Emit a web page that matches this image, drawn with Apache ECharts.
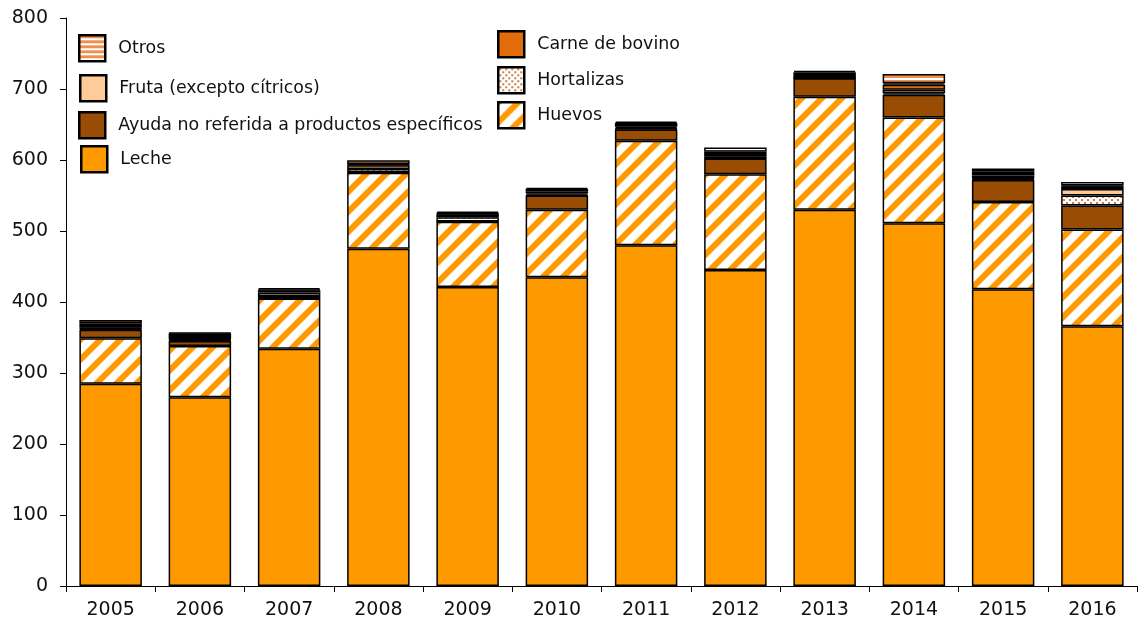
<!DOCTYPE html>
<html>
<head>
<meta charset="utf-8">
<script src="https://cdn.jsdelivr.net/npm/echarts@6/dist/echarts.min.js"></script>
<style>
html,body{margin:0;padding:0;background:#fff;}
#c{width:1140px;height:626px;}
</style>
</head>
<body>
<div id="c"></div>
<script>
// ---- data ----
var years = ['2005','2006','2007','2008','2009','2010','2011','2012','2013','2014','2015','2016'];
var leche      = [285, 266, 334, 475, 421, 435, 480, 445, 530, 511, 418, 366];
var huevos     = [64, 72, 71, 107, 92, 95, 147, 135, 159, 149, 123, 136];
var ayuda      = [12, 7, 0.5, 0.5, 0.5, 20, 16, 22, 26, 32, 31, 34];
var hortalizas = [1.5, 1.5, 3, 5, 6, 1, 1, 1, 0.5, 2, 1, 14];
var fruta      = [0.5, 0.5, 5, 5, 4, 2, 1, 0.5, 0.5, 5, 1, 9];
var carne      = [1, 1, 3, 1, 1, 3, 2, 1, 0.5, 7, 4, 4];
var resto      = [6, 8, 1, 1, 1, 3, 5, 7, 7, 2, 6, 1];
var otros      = [4.5, 1, 2, 5, 2, 2, 2, 6, 2, 13, 4, 5];
var yTicks = [0, 100, 200, 300, 400, 500, 600, 700, 800];

// ---- patterns ----
function diag(){
  var n=20;
  var c=document.createElement('canvas');c.width=n;c.height=n;
  var g=c.getContext('2d');g.fillStyle='#fff';g.fillRect(0,0,n,n);
  g.strokeStyle='#FF9900';g.lineWidth=6;
  for(var k=-1;k<=1;k++){g.beginPath();g.moveTo(-5+k*n,n+5);g.lineTo(n+5+k*n,-5);g.stroke();}
  return c;
}
function dots(){
  var c=document.createElement('canvas');c.width=6;c.height=6;
  var g=c.getContext('2d');g.fillStyle='#fff';g.fillRect(0,0,6,6);
  g.fillStyle='#C8824A';g.fillRect(1,1,2,2);g.fillRect(4,4,2,2);
  return c;
}
function hstripes(){
  var c=document.createElement('canvas');c.width=4;c.height=5;
  var g=c.getContext('2d');g.fillStyle='#fff';g.fillRect(0,0,4,5);
  g.fillStyle='#F09050';g.fillRect(0,0,4,3);
  return c;
}
var pDiag={image:diag(),repeat:'repeat'};
var pDots={image:dots(),repeat:'repeat'};
var pStr={image:hstripes(),repeat:'repeat'};

function s(name,data,color){
  return {name:name,type:'bar',stack:'t',data:data,barCategoryGap:'30%',
    itemStyle:{color:color,borderColor:'#000',borderWidth:1.5},
    emphasis:{disabled:true}};
}
var series=[
  s('Leche',leche,'#FF9900'),
  s('Huevos',huevos,pDiag),
  s('Ayuda no referida a productos específicos',ayuda,'#994C04'),
  s('Hortalizas',hortalizas,pDots),
  s('Fruta (excepto cítricos)',fruta,'#FFCC99'),
  s('Carne de bovino',carne,'#E36C0A'),
  s('Resto',resto,'#000000'),
  s('Otros',otros,pStr)
];

function leg(name,left,top){
  return {data:[{name:name,icon:'rect'}],left:left,top:top,padding:0,itemWidth:26,itemHeight:26,
    selectedMode:false,
    itemStyle:{borderColor:'#000',borderWidth:2.5},
    textStyle:{fontFamily:'DejaVu Sans',fontSize:17.4,color:'#111',padding:[8,0,0,8]}};
}

var chart=echarts.init(document.getElementById('c'));
chart.setOption({
  animation:false,
  grid:{left:66,right:3,top:18,bottom:40},
  legend:[
    leg('Otros',78,34),
    leg('Fruta (excepto cítricos)',79,74),
    leg('Ayuda no referida a productos específicos',78,111),
    leg('Leche',80,145),
    leg('Carne de bovino',497,30),
    leg('Hortalizas',497,66),
    leg('Huevos',497,101)
  ],
  xAxis:{type:'category',data:years,
    axisLine:{lineStyle:{color:'#000',width:1}},
    axisTick:{show:true,alignWithLabel:false,length:6,lineStyle:{color:'#000'}},
    axisLabel:{fontFamily:'DejaVu Sans',fontSize:19,color:'#111',margin:15}},
  yAxis:{type:'value',min:0,max:800,interval:100,
    axisLine:{show:true,lineStyle:{color:'#000',width:1}},
    axisTick:{show:true,length:6,lineStyle:{color:'#000'}},
    splitLine:{show:false},
    axisLabel:{fontFamily:'DejaVu Sans',fontSize:19,color:'#111',margin:18,
      formatter:function(v){return yTicks.indexOf(v)>=0?String(v):'';}}},
  series:series
});
</script>
</body>
</html>
